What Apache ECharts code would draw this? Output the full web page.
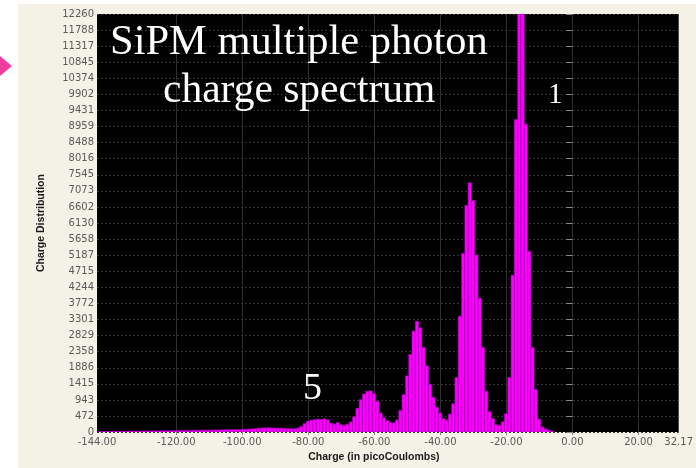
<!DOCTYPE html>
<html>
<head>
<meta charset="utf-8">
<script src="https://cdn.jsdelivr.net/npm/echarts@6/dist/echarts.min.js"></script>
<style>
  html, body { margin: 0; padding: 0; background: #ffffff; }
  #chart { width: 696px; height: 468px; }
</style>
</head>
<body>
<div id="chart"></div>
<script>
// Histogram binning: first bin's left edge and bin width, in picoCoulombs
const binStart = -143.6;
const binWidth = 1;

// Counts per bin, left to right
const counts = [
  18, 20, 22, 20, 24, 26, 25, 28, 27, 30,
  30, 32, 31, 34, 35, 33, 36, 38, 37, 40,
  41, 40, 43, 45, 44, 47, 48, 50,
  52, 55, 53, 58, 60, 57, 62, 65, 63, 68, 70, 66, 72, 75, 73,
  80, 85, 90, 95, 105, 115, 120, 125, 128, 124,
  120, 118, 115, 108, 100, 98, 105, 120, 170, 250,
  320, 350, 370, 380, 375, 390, 360, 260, 230, 280,
  220, 200, 230, 300, 450, 700, 950, 1120, 1200, 1210,
  1130, 900, 560, 420, 330, 285, 270, 360, 640, 1100,
  1650, 2280, 2960, 3250, 3060, 2480, 1940, 1400, 1020, 730,
  560, 390, 350, 530, 830, 1600, 3400, 5240, 6650, 7310,
  6790, 5190, 3930, 2480, 1200, 600, 400, 220, 200, 300,
  540, 1600, 4600, 9170, 13600, 12900, 9030, 5300, 2480, 1250,
  380, 150, 90, 60, 30
];

// Axis ticks
const xTicks = [-144, -120, -100, -80, -60, -40, -20, 0, 20, 32.17];
const xGridTicks = [-120, -100, -80, -60, -40, -20, 0, 20];
const yTicks = [0, 472, 943, 1415, 1886, 2358, 2829, 3301, 3772, 4244, 4715,
  5187, 5658, 6130, 6602, 7073, 7545, 8016, 8488, 8959, 9431, 9902,
  10374, 10845, 11317, 11788, 12260];

const bins = counts.map((c, i) => {
  const left = binStart + i * binWidth;
  return [left, left + binWidth, c];
});

const chart = echarts.init(document.getElementById('chart'), null, { renderer: 'canvas' });

const labelFont = { fontFamily: 'DejaVu Sans', fontSize: 10, color: '#5a5a5a' };

chart.setOption({
  backgroundColor: '#f4f2e6',
  animation: false,
  grid: {
    left: 97, right: 14, top: 14, bottom: 33,
    show: true, backgroundColor: '#000000', borderWidth: 0
  },
  xAxis: {
    type: 'value',
    min: -144, max: 32.17,
    name: 'Charge (in picoCoulombs)',
    nameLocation: 'middle',
    nameGap: 15,
    nameTextStyle: { fontFamily: 'Liberation Sans', fontWeight: 'bold', fontSize: 10.5, color: '#1a1a1a', padding: [0, 28, 0, 0] },
    axisLine: { show: false },
    axisTick: { show: true, length: 3, lineStyle: { color: '#8a8a8a' }, customValues: xGridTicks },
    axisLabel: {
      ...labelFont, margin: 5,
      customValues: xTicks,
      formatter: v => v.toFixed(2)
    },
    splitLine: { show: true, lineStyle: { color: '#2e2e2e', width: 1 } }
  },
  yAxis: {
    type: 'value',
    min: 0, max: 12260,
    name: 'Charge Distribution',
    nameLocation: 'middle',
    nameGap: 50,
    nameTextStyle: { fontFamily: 'Liberation Sans', fontWeight: 'bold', fontSize: 10.5, color: '#1a1a1a' },
    axisLine: { show: false },
    axisTick: { show: true, length: 6, lineStyle: { color: '#8a8a8a' }, customValues: yTicks },
    axisLabel: { ...labelFont, margin: 3, customValues: yTicks, formatter: v => String(v) },
    splitLine: { show: true, lineStyle: { color: '#333333', width: 1, type: [2, 2] } }
  },
  series: [{
    type: 'custom',
    clip: true,
    encode: { x: [0, 1], y: 2 },
    data: bins,
    renderItem: (params, api) => {
      const top = api.coord([api.value(0), api.value(2)]);
      const base = api.coord([api.value(1), 0]);
      return {
        type: 'rect',
        shape: { x: top[0], y: top[1], width: base[0] - top[0], height: base[1] - top[1] },
        style: { fill: '#ff00ff', stroke: '#a000b4', lineWidth: 0.6 }
      };
    }
  }],
  graphic: [
    { type: 'rect', shape: { x: 0, y: 0, width: 18, height: 468 }, style: { fill: '#ffffff' }, silent: true },
    { type: 'rect', shape: { x: 0, y: 0, width: 696, height: 4 }, style: { fill: '#ffffff' }, silent: true },
    { type: 'polygon', shape: { points: [[0, 56], [12, 66], [0, 76]] }, style: { fill: '#f23c9e' }, silent: true },
    { type: 'text', x: 110, y: 43, z: 100, style: { text: 'SiPM multiple photon', fill: '#ffffff', font: '42.5px "Liberation Serif"', verticalAlign: 'middle' } },
    { type: 'text', x: 163, y: 91, z: 100, style: { text: 'charge spectrum', fill: '#ffffff', font: '41.5px "Liberation Serif"', verticalAlign: 'middle' } },
    { type: 'text', x: 548, y: 95, z: 100, style: { text: '1', fill: '#ffffff', font: '29px "Liberation Serif"', verticalAlign: 'middle' } },
    { type: 'text', x: 303, y: 389, z: 100, style: { text: '5', fill: '#ffffff', font: '38px "Liberation Serif"', verticalAlign: 'middle' } }
  ]
});
</script>
</body>
</html>
